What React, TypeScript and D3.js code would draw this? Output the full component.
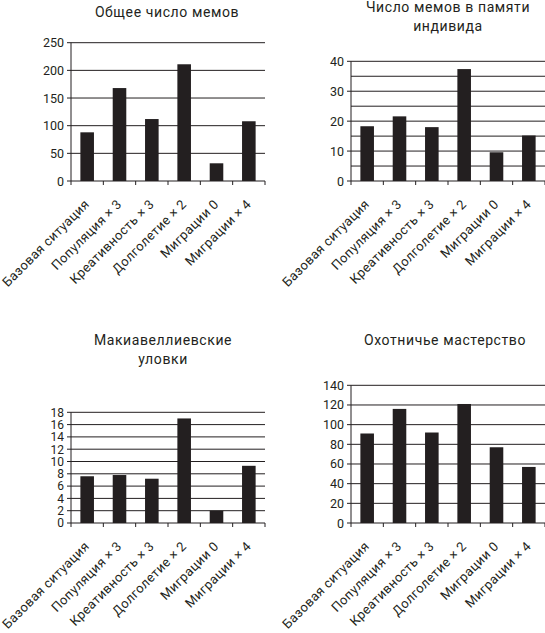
import React from "react";
import * as d3 from "d3";

const categories = [
  "Базовая ситуация",
  "Популяция × 3",
  "Креативность × 3",
  "Долголетие × 2",
  "Миграции 0",
  "Миграции × 4",
];

const totalMemes = [88, 168, 112, 211, 32, 108];
const memesPerIndividual = [18.3, 21.6, 18.0, 37.4, 9.6, 15.2];
const machiavellianTricks = [7.6, 7.8, 7.2, 17.0, 2.0, 9.3];
const huntingSkill = [91, 116, 92, 121, 77, 57];

const titles1 = ["Общее число мемов"];
const titles2 = ["Число мемов в памяти", "индивида"];
const titles3 = ["Макиавеллиевские", "уловки"];
const titles4 = ["Охотничье мастерство"];

const FONT = "Roboto, 'DejaVu Sans', sans-serif";

type PanelProps = {
  x0: number;
  x1: number;
  yTop: number;
  yBottom: number;
  max: number;
  gridStep: number;
  labelStep: number;
  values: number[];
  title: string[];
  titleX: number;
  titleY: number;
  tickFont?: number;
};

function Panel(p: PanelProps) {
  const x = d3
    .scaleBand<string>()
    .domain(categories)
    .range([p.x0, p.x1])
    .paddingInner(0.58)
    .paddingOuter(0.29);
  const y = d3.scaleLinear().domain([0, p.max]).range([p.yBottom, p.yTop]);
  const grid = d3.range(0, p.max + 1e-9, p.gridStep);
  const labels = d3.range(0, p.max + 1e-9, p.labelStep);
  const step = (p.x1 - p.x0) / categories.length;
  const bounds = d3.range(0, categories.length + 1).map((i) => p.x0 + i * step);
  const tf = p.tickFont ?? 12.5;
  return (
    <g>
      {p.title.map((t, i) => (
        <text
          key={t}
          x={p.titleX}
          y={p.titleY + i * 19}
          textAnchor="middle"
          fontFamily={FONT}
          fontSize={14}
          fill="#231f20"
          letterSpacing={0.6}
        >
          {t}
        </text>
      ))}
      {grid.map((g) => (
        <line
          key={"g" + g}
          x1={p.x0}
          x2={p.x1}
          y1={y(g)}
          y2={y(g)}
          stroke="#231f20"
          strokeWidth={1}
        />
      ))}
      <line x1={p.x0} x2={p.x0} y1={p.yTop} y2={p.yBottom} stroke="#231f20" strokeWidth={1} />
      {labels.map((l) => (
        <g key={"l" + l}>
          <line x1={p.x0 - 4} x2={p.x0} y1={y(l)} y2={y(l)} stroke="#231f20" strokeWidth={1} />
          <text
            x={p.x0 - 7}
            y={y(l)}
            dy="0.36em"
            textAnchor="end"
            fontFamily={FONT}
            fontSize={tf}
            fill="#231f20"
          >
            {l}
          </text>
        </g>
      ))}
      {bounds.map((b, i) => (
        <line
          key={"b" + i}
          x1={b}
          x2={b}
          y1={p.yBottom}
          y2={p.yBottom + 4}
          stroke="#231f20"
          strokeWidth={1}
        />
      ))}
      {categories.map((c, i) => (
        <rect
          key={"r" + c}
          x={x(c)}
          y={y(p.values[i])}
          width={x.bandwidth()}
          height={p.yBottom - y(p.values[i])}
          fill="#231f20"
        />
      ))}
      {categories.map((c) => {
        const cx = (x(c) as number) + x.bandwidth() / 2 + 3;
        const cy = p.yBottom + 24;
        return (
          <text
            key={"t" + c}
            transform={`translate(${cx},${cy}) rotate(-45)`}
            textAnchor="end"
            fontFamily={FONT}
            fontSize={13}
            letterSpacing={0.4}
            fill="#231f20"
          >
            {c}
          </text>
        );
      })}
    </g>
  );
}

export default function App() {
  return (
    <svg
      width={545}
      height={633}
      style={{ position: "absolute", left: 0, top: 0, background: "#fff" }}
    >
      <rect width={545} height={633} fill="#fff" />
      <Panel
        x0={71}
        x1={265}
        yTop={42.7}
        yBottom={181}
        max={250}
        gridStep={50}
        labelStep={50}
        values={totalMemes}
        title={titles1}
        titleX={167}
        titleY={17}
      />
      <Panel
        x0={351}
        x1={545}
        yTop={61.3}
        yBottom={181}
        max={40}
        gridStep={5}
        labelStep={10}
        values={memesPerIndividual}
        title={titles2}
        titleX={448}
        titleY={12}
      />
      <Panel
        x0={71}
        x1={265}
        yTop={412.3}
        yBottom={523}
        max={18}
        gridStep={2}
        labelStep={2}
        values={machiavellianTricks}
        title={titles3}
        titleX={163}
        titleY={345}
        tickFont={12}
      />
      <Panel
        x0={351}
        x1={545}
        yTop={385.3}
        yBottom={523}
        max={140}
        gridStep={20}
        labelStep={20}
        values={huntingSkill}
        title={titles4}
        titleX={445}
        titleY={345}
      />
    </svg>
  );
}
